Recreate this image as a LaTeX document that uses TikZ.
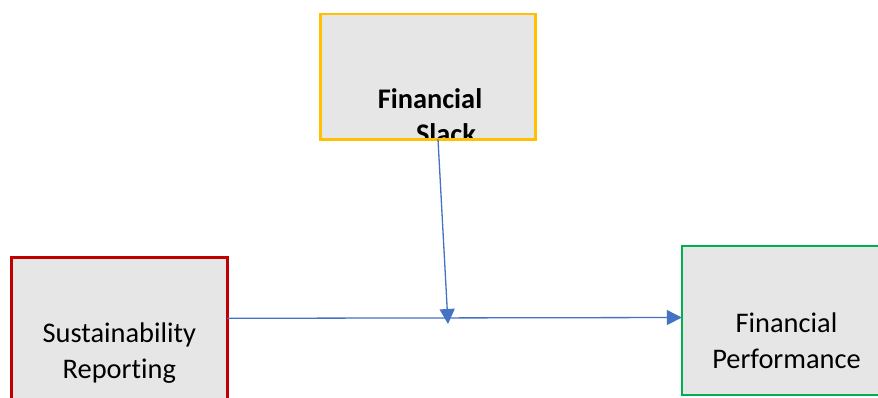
\documentclass[tikz,border=0pt]{standalone}
\usepackage{fontspec}
\setmainfont{Carlito}[Ligatures={NoCommon}]
\usetikzlibrary{arrows.meta}

\definecolor{boxfill}{RGB}{230,230,230}
\definecolor{slackline}{RGB}{255,192,0}
\definecolor{reportline}{RGB}{192,0,0}
\definecolor{perfline}{RGB}{0,176,80}
\definecolor{linkblue}{RGB}{68,114,196}

\tikzset{
  varbox/.style={rectangle, fill=boxfill, anchor=north west, inner sep=0pt, outer sep=0pt},
  lbl/.style={anchor=base, inner sep=0pt, font=\fontsize{14.2}{17.5}\selectfont},
  boldlbl/.style={lbl, font=\fontsize{14.2}{17.5}\selectfont\bfseries},
  conn/.style={draw=linkblue, line width=0.65pt, -{Triangle[length=7.5pt, width=7.5pt]}},
}

\begin{document}
\begin{tikzpicture}[x=0.5pt, y=-0.5pt]
  \clip (0,0) rectangle (878,397);
  \fill[white] (0,0) rectangle (878,397);

  % Moderator: financial slack (label cut off by the box edge)
  \node[varbox, draw=slackline, line width=1.35pt, minimum width=107.5pt, minimum height=62.65pt]
    (fs) at (320.7,14) {};
  \begin{scope}
    \clip ([shift={(0.7pt,-0.7pt)}]fs.south west) rectangle ([shift={(-0.7pt,0.7pt)}]fs.north east);
    \node[boldlbl] (fs1) at (430,108) {Financial};
    \node[boldlbl] (fs2) at (446,143) {Slack};
  \end{scope}
  \draw[draw=slackline, line width=1.35pt] (fs.south west) rectangle (fs.north east);

  % Independent variable: sustainability reporting
  \node[varbox, draw=reportline, line width=1.35pt, minimum width=108pt, minimum height=100pt]
    (sr) at (11.3,257.3) {};
  \node[lbl] (sr1) at (119.3,342) {Sustainability};
  \node[lbl] (sr2) at (119.3,378) {Reporting};

  % Dependent variable: financial performance
  \node[varbox, draw=perfline, line width=1pt, minimum width=120pt, minimum height=74.4pt]
    (fp) at (681.8,246) {};
  \node[lbl] (fp1) at (786.5,332) {Financial};
  \node[lbl] (fp2) at (786.5,368) {Performance};

  % Connectors
  \coordinate (hl) at (0,318.3);
  \coordinate (hr) at (0,317.5);
  \coordinate (mx) at (438,0);
  \coordinate (m) at (448,324);
  \draw[conn] (sr.east |- hl) -- (fp.west |- hr);
  \draw[conn] (fs.south -| mx) -- (m);
\end{tikzpicture}
\end{document}
